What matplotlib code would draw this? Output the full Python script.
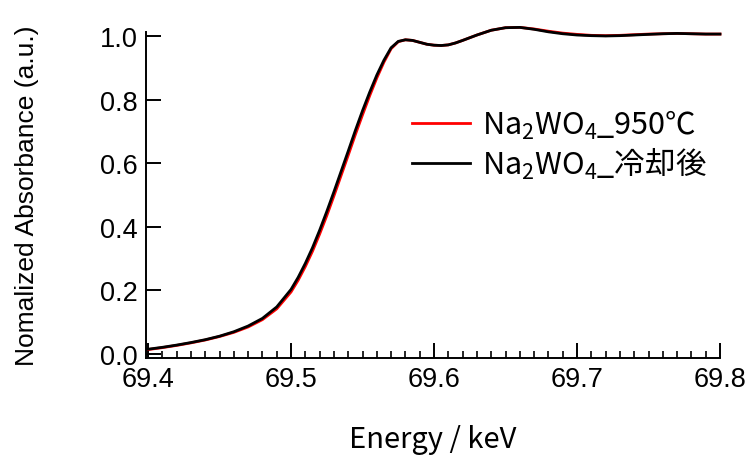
"""
XANES W K-edge: Na2WO4 at 950 C vs after cooling.
"""
import matplotlib
matplotlib.use("Agg")
import matplotlib.pyplot as plt
from matplotlib.ticker import MultipleLocator, FormatStrFormatter

# energia (keV) e absorbancia normalizada
energia = [69.400, 69.410, 69.420, 69.430, 69.440, 69.450, 69.460, 69.470,
           69.480, 69.490, 69.500, 69.505, 69.510, 69.515, 69.520, 69.525,
           69.530, 69.535, 69.540, 69.545, 69.550, 69.555, 69.560, 69.565,
           69.570, 69.575, 69.580, 69.585, 69.590, 69.595, 69.600, 69.605,
           69.610, 69.615, 69.620, 69.630, 69.640, 69.650, 69.660, 69.670,
           69.680, 69.690, 69.700, 69.710, 69.720, 69.730, 69.740, 69.750,
           69.760, 69.770, 69.780, 69.790, 69.800]

abs_950 = [0.014, 0.020, 0.027, 0.035, 0.044, 0.055, 0.068, 0.085,
           0.108, 0.142, 0.195, 0.232, 0.275, 0.323, 0.377, 0.435,
           0.497, 0.561, 0.625, 0.690, 0.752, 0.812, 0.868, 0.918,
           0.960, 0.982, 0.988, 0.986, 0.980, 0.974, 0.971, 0.970,
           0.972, 0.978, 0.986, 1.003, 1.018, 1.026, 1.027, 1.022,
           1.015, 1.009, 1.005, 1.002, 1.001, 1.002, 1.004, 1.006,
           1.007, 1.008, 1.007, 1.006, 1.006]

abs_resfriado = [0.015, 0.021, 0.028, 0.036, 0.045, 0.056, 0.070, 0.088,
                 0.112, 0.148, 0.203, 0.241, 0.285, 0.334, 0.389, 0.448,
                 0.510, 0.574, 0.638, 0.703, 0.765, 0.823, 0.877, 0.924,
                 0.963, 0.983, 0.988, 0.986, 0.980, 0.974, 0.971, 0.970,
                 0.972, 0.978, 0.986, 1.003, 1.018, 1.026, 1.027, 1.021,
                 1.013, 1.007, 1.003, 1.001, 1.000, 1.001, 1.003, 1.005,
                 1.007, 1.008, 1.007, 1.006, 1.006]

rotulos = [r"$\mathrm{Na_{2}WO_{4}\_950℃}$", r"$\mathrm{Na_{2}WO_{4}\_冷却後}$"]

plt.rcParams["font.family"] = ["Liberation Sans", "Noto Sans CJK JP", "DejaVu Sans"]
plt.rcParams["mathtext.fontset"] = "custom"
plt.rcParams["mathtext.rm"] = "Noto Sans CJK JP"
plt.rcParams["mathtext.it"] = "Noto Sans CJK JP"
plt.rcParams["mathtext.default"] = "regular"

fig = plt.figure(figsize=(7.5, 4.56), dpi=100)
ax = fig.add_axes([0.1947, 0.2127, 0.7653, 0.715])

ax.plot(energia, abs_950, color="#ff0000", lw=2.0, label=rotulos[0], clip_on=False)
ax.plot(energia, abs_resfriado, color="black", lw=2.0, label=rotulos[1], clip_on=False)

ax.set_xlim(69.3986, 69.8)
ax.set_ylim(-0.0126, 1.0126)
ax.xaxis.set_major_locator(MultipleLocator(0.1))
ax.xaxis.set_minor_locator(MultipleLocator(0.01))
ax.yaxis.set_major_locator(MultipleLocator(0.2))
ax.xaxis.set_major_formatter(FormatStrFormatter("%.1f"))
ax.yaxis.set_major_formatter(FormatStrFormatter("%.1f"))

for lado in ("top", "right"):
    ax.spines[lado].set_visible(False)
for lado in ("left", "bottom"):
    ax.spines[lado].set_linewidth(1.4)

ax.tick_params(axis="both", which="major", direction="in", length=11,
               width=1.4, labelsize=19.5, pad=6)
ax.tick_params(axis="x", which="minor", direction="in", length=5, width=1.2)
ax.tick_params(axis="y", which="minor", left=False)

ax.set_ylabel("Nomalized Absorbance (a.u.)", fontsize=19, labelpad=44)
ax.set_xlabel("Energy / keV", fontsize=21, labelpad=23,
              family=["Noto Sans CJK JP", "DejaVu Sans"])

leg = ax.legend(loc="upper left", bbox_to_anchor=(0.415, 0.852), frameon=False,
                fontsize=22, handlelength=1.9, handletextpad=0.4,
                labelspacing=0.12)

fig.savefig("out.png", dpi=100)
